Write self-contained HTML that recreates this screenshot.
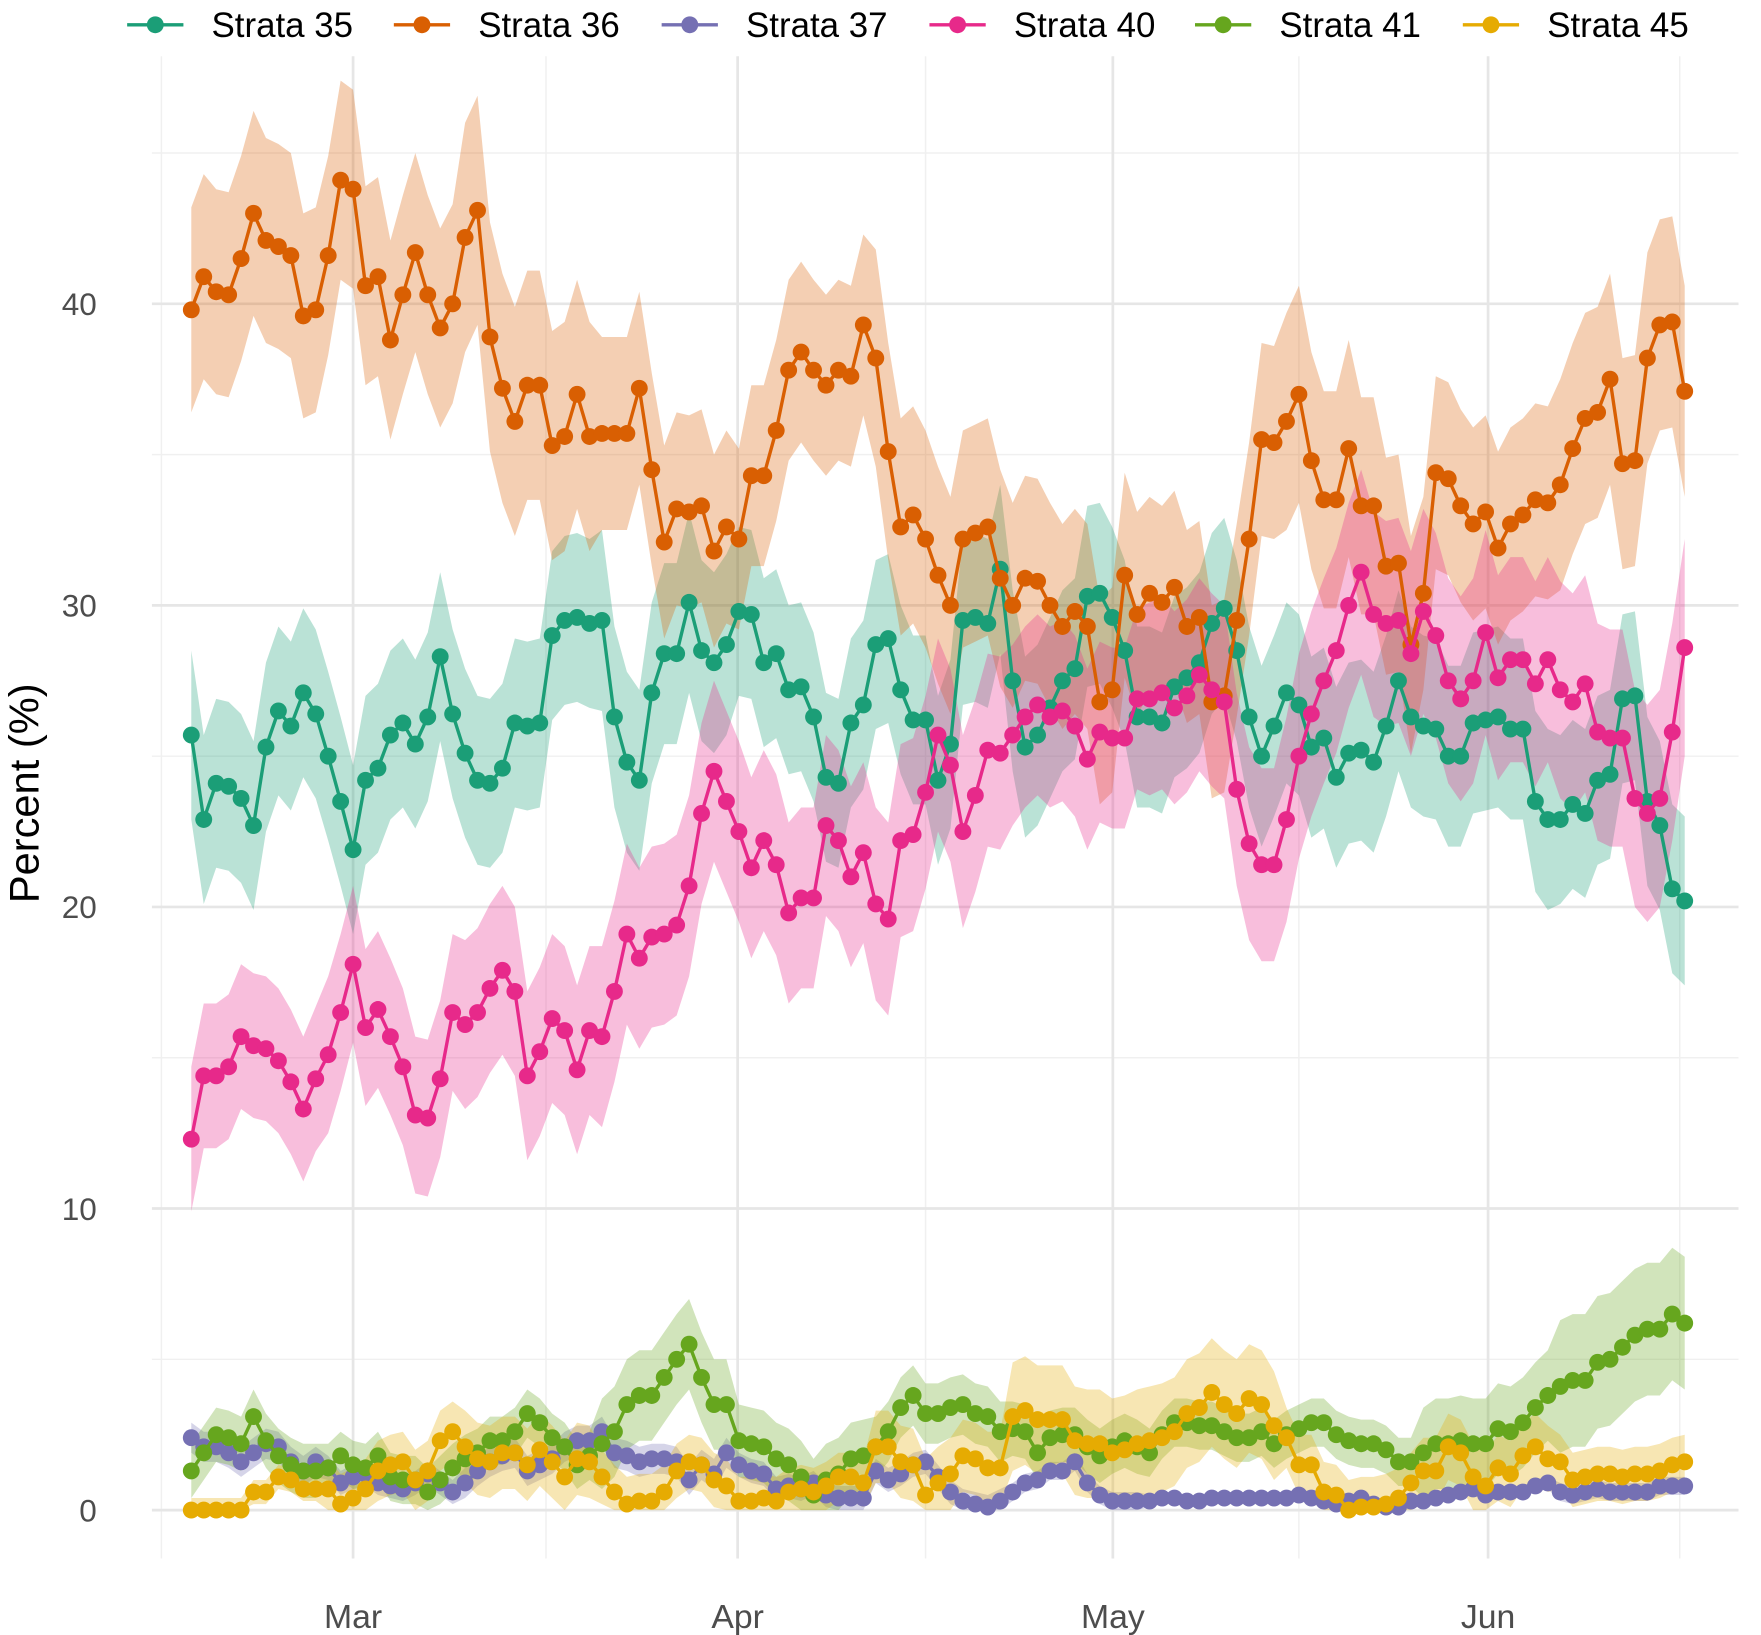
<!DOCTYPE html>
<html><head><meta charset="utf-8">
<style>
html,body{margin:0;padding:0;background:#fff;}
svg{display:block;font-family:"Liberation Sans",Arial,sans-serif;}
</style></head>
<body>
<svg id="chart" width="1761" height="1635" viewBox="0 0 1565 1453" preserveAspectRatio="none" xmlns="http://www.w3.org/2000/svg">
<g id="grid"></g>
<g id="bands"></g>
<g id="series"></g>
<g id="axes"></g>
<text transform="translate(34,705) rotate(-90)" text-anchor="middle" font-size="37" fill="#000">Percent (%)</text>
<g id="legend"></g>
</svg>
<script>
const seriesNames = ["Strata 35","Strata 36","Strata 37","Strata 40","Strata 41","Strata 45"];
const seriesColors = ["#1B9E77","#D95F02","#7570B3","#E7298A","#66A61E","#E6AB02"];
const yTicks = [0,10,20,30,40];
const yMinor = [5,15,25,35,45];
const xTickPos = [13,43.9,74.05,104.2];
const xTickLabels = ["Mar","Apr","May","Jun"];
const xMinor = [-2.4,28.5,59,89,119.6];

const s35 = [25.7,22.9,24.1,24.0,23.6,22.7,25.3,26.5,26.0,27.1,26.4,25.0,23.5,21.9,24.2,24.6,25.7,26.1,25.4,26.3,28.3,26.4,25.1,24.2,24.1,24.6,26.1,26.0,26.1,29.0,29.5,29.6,29.4,29.5,26.3,24.8,24.2,27.1,28.4,28.4,30.1,28.5,28.1,28.7,29.8,29.7,28.1,28.4,27.2,27.3,26.3,24.3,24.1,26.1,26.7,28.7,28.9,27.2,26.2,26.2,24.2,25.4,29.5,29.6,29.4,31.2,27.5,25.3,25.7,26.6,27.5,27.9,30.3,30.4,29.6,28.5,26.3,26.3,26.1,27.3,27.6,28.1,29.4,29.9,28.5,26.3,25.0,26.0,27.1,26.7,25.3,25.6,24.3,25.1,25.2,24.8,26.0,27.5,26.3,26.0,25.9,25.0,25.0,26.1,26.2,26.3,25.9,25.9,23.5,22.9,22.9,23.4,23.1,24.2,24.4,26.9,27.0,23.5,22.7,20.6,20.2];
const s36 = [39.8,40.9,40.4,40.3,41.5,43.0,42.1,41.9,41.6,39.6,39.8,41.6,44.1,43.8,40.6,40.9,38.8,40.3,41.7,40.3,39.2,40.0,42.2,43.1,38.9,37.2,36.1,37.3,37.3,35.3,35.6,37.0,35.6,35.7,35.7,35.7,37.2,34.5,32.1,33.2,33.1,33.3,31.8,32.6,32.2,34.3,34.3,35.8,37.8,38.4,37.8,37.3,37.8,37.6,39.3,38.2,35.1,32.6,33.0,32.2,31.0,30.0,32.2,32.4,32.6,30.9,30.0,30.9,30.8,30.0,29.3,29.8,29.3,26.8,27.2,31.0,29.7,30.4,30.1,30.6,29.3,29.6,26.8,27.0,29.5,32.2,35.5,35.4,36.1,37.0,34.8,33.5,33.5,35.2,33.3,33.3,31.3,31.4,28.7,30.4,34.4,34.2,33.3,32.7,33.1,31.9,32.7,33.0,33.5,33.4,34.0,35.2,36.2,36.4,37.5,34.7,34.8,38.2,39.3,39.4,37.1];
const s37 = [2.4,2.1,2.1,1.9,1.6,1.9,2.2,2.1,1.6,1.3,1.6,1.4,0.9,1.1,1.2,0.9,0.8,0.7,0.9,1.2,0.9,0.6,0.9,1.3,1.6,1.8,1.9,1.3,1.5,1.7,2.1,2.3,2.3,2.6,1.9,1.8,1.6,1.7,1.7,1.6,1.0,1.5,1.2,1.9,1.5,1.3,1.2,0.7,0.8,0.7,0.9,0.5,0.4,0.4,0.4,1.3,1.0,1.2,1.5,1.6,1.1,0.6,0.3,0.2,0.1,0.3,0.6,0.9,1.0,1.3,1.3,1.6,0.9,0.5,0.3,0.3,0.3,0.3,0.4,0.4,0.3,0.3,0.4,0.4,0.4,0.4,0.4,0.4,0.4,0.5,0.4,0.3,0.2,0.3,0.4,0.2,0.1,0.1,0.3,0.3,0.4,0.5,0.6,0.7,0.5,0.6,0.6,0.6,0.8,0.9,0.6,0.5,0.6,0.7,0.6,0.6,0.6,0.6,0.8,0.8,0.8];
const s40 = [12.3,14.4,14.4,14.7,15.7,15.4,15.3,14.9,14.2,13.3,14.3,15.1,16.5,18.1,16.0,16.6,15.7,14.7,13.1,13.0,14.3,16.5,16.1,16.5,17.3,17.9,17.2,14.4,15.2,16.3,15.9,14.6,15.9,15.7,17.2,19.1,18.3,19.0,19.1,19.4,20.7,23.1,24.5,23.5,22.5,21.3,22.2,21.4,19.8,20.3,20.3,22.7,22.2,21.0,21.8,20.1,19.6,22.2,22.4,23.8,25.7,24.7,22.5,23.7,25.2,25.1,25.7,26.3,26.7,26.3,26.5,26.0,24.9,25.8,25.6,25.6,26.9,26.9,27.1,26.6,27.0,27.7,27.2,26.8,23.9,22.1,21.4,21.4,22.9,25.0,26.4,27.5,28.5,30.0,31.1,29.7,29.4,29.5,28.4,29.8,29.0,27.5,26.9,27.5,29.1,27.6,28.2,28.2,27.4,28.2,27.2,26.8,27.4,25.8,25.6,25.6,23.6,23.1,23.6,25.8,28.6];
const s41 = [1.3,1.9,2.5,2.4,2.2,3.1,2.3,1.8,1.5,1.3,1.3,1.4,1.8,1.5,1.4,1.8,1.1,1.0,1.0,0.6,1.0,1.4,1.7,1.9,2.3,2.3,2.6,3.2,2.9,2.4,2.1,1.5,1.8,2.2,2.6,3.5,3.8,3.8,4.4,5.0,5.5,4.4,3.5,3.5,2.3,2.2,2.1,1.7,1.5,1.1,0.5,1.0,1.2,1.7,1.8,2.1,2.6,3.4,3.8,3.2,3.2,3.4,3.5,3.2,3.1,2.6,2.7,2.6,1.9,2.4,2.5,2.5,2.1,1.8,2.1,2.3,2.1,1.9,2.5,2.9,2.9,2.8,2.8,2.6,2.4,2.4,2.6,2.2,2.5,2.7,2.9,2.9,2.5,2.3,2.2,2.2,2.0,1.6,1.6,1.9,2.2,2.2,2.3,2.2,2.2,2.7,2.6,2.9,3.4,3.8,4.1,4.3,4.3,4.9,5.0,5.4,5.8,6.0,6.0,6.5,6.2];
const s45 = [0.0,0.0,0.0,0.0,0.0,0.6,0.6,1.1,1.0,0.7,0.7,0.7,0.2,0.4,0.7,1.3,1.5,1.6,1.0,1.3,2.3,2.6,2.1,1.7,1.6,1.9,1.9,1.5,2.0,1.6,1.1,1.7,1.6,1.1,0.6,0.2,0.3,0.3,0.6,1.3,1.6,1.5,1.0,0.8,0.3,0.3,0.4,0.3,0.6,0.7,0.6,0.8,1.1,1.1,0.9,2.1,2.1,1.6,1.5,0.5,0.9,1.2,1.8,1.7,1.4,1.4,3.1,3.3,3.0,3.0,3.0,2.3,2.2,2.2,1.9,2.0,2.2,2.3,2.4,2.6,3.2,3.4,3.9,3.5,3.2,3.7,3.5,2.8,2.4,1.5,1.5,0.6,0.5,0.0,0.1,0.1,0.2,0.4,0.9,1.3,1.3,2.1,1.9,1.1,0.8,1.4,1.2,1.8,2.1,1.7,1.6,1.0,1.1,1.2,1.2,1.1,1.2,1.2,1.3,1.5,1.6];
const se35 = [2.8,2.8,2.8,3.0,2.8,2.8,3.0,3.0,3.0,3.0,2.8];
const se36 = [3.4,3.3,3.8,3.2,3.0,3.6,3.4,3.2,3.6,3.2,3.5];
const se37 = [0.5,0.4,0.5,0.5,0.4,0.4,0.3,0.2,0.2,0.2,0.3];
const se40 = [2.4,2.6,2.8,3.0,3.0,3.2,3.0,3.2,3.4,3.4,3.6];
const se41 = [0.9,0.8,0.8,1.5,1.2,1.0,0.9,0.8,0.8,1.5,2.2];
const se45 = [0.4,1.0,1.2,0.9,0.8,1.2,1.8,1.8,1.0,1.1,0.9];
const allSeries = [s35,s36,s37,s40,s41,s45];
const allSe = [se35,se36,se37,se40,se41,se45];

const NS = "http://www.w3.org/2000/svg";
const X0 = 170, DX = 11.06;
const Y0 = 1342, DY = 26.8;
const xs = i => X0 + i*DX;
const ys = v => Y0 - v*DY;
const PL = 135, PR = 1545, PT = 50, PB = 1385;
function mk(tag, attrs, parent){ const e=document.createElementNS(NS,tag); for(const k in attrs) e.setAttribute(k,attrs[k]); parent.appendChild(e); return e; }

const grid = document.getElementById('grid');
yMinor.forEach(v=>{ const l=mk('line',{x1:PL,x2:PR,y1:ys(v),y2:ys(v),stroke:'#f0f0f0','stroke-width':1.3},grid);

 });
xMinor.forEach(d=>{ const l=mk('line',{x1:xs(d),x2:xs(d),y1:PT,y2:PB,stroke:'#f0f0f0','stroke-width':1.3},grid);

 });
yTicks.forEach(v=>{ const l=mk('line',{x1:PL,x2:PR,y1:ys(v),y2:ys(v),stroke:'#e6e6e6','stroke-width':2.4},grid);

 });
xTickPos.forEach(d=>{ const l=mk('line',{x1:xs(d),x2:xs(d),y1:PT,y2:PB,stroke:'#e6e6e6','stroke-width':2.4},grid);

 });

const axes = document.getElementById('axes');
yTicks.forEach(v=>{ const t=mk('text',{x:86,y:ys(v)+10,'text-anchor':'end','font-size':28,fill:'#4d4d4d'},axes); t.textContent=v;

 });
xTickPos.forEach((d,i)=>{ const t=mk('text',{x:xs(d),y:1447,'text-anchor':'middle','font-size':30,fill:'#4d4d4d'},axes); t.textContent=xTickLabels[i];

 });

const bands = document.getElementById('bands');
const seriesG = document.getElementById('series');
allSeries.forEach((s,k)=>{
  const se = allSe[k];
  let up=[], lo=[];
  s.forEach((v,i)=>{ const w=se[Math.min(se.length-1,Math.floor(i/11))]; up.push(xs(i)+','+ys(v+w)); lo.unshift(xs(i)+','+ys(Math.max(0,v-w))); });
  const p = mk('polygon',{points:up.concat(lo).join(' '),fill:seriesColors[k],'fill-opacity':0.3},bands);
  
  
});
allSeries.forEach((s,k)=>{
  const g = mk('g',{},seriesG);
  
  
  const pl = mk('polyline',{points:s.map((v,i)=>xs(i)+','+ys(v)).join(' '),fill:'none',stroke:seriesColors[k],'stroke-width':3},g);
  
  
  s.forEach((v,i)=>{ const c=mk('circle',{cx:xs(i),cy:ys(v),r:7.5,fill:seriesColors[k]},g);
    
     });
});

const legend = document.getElementById('legend');
const legX = [113,350,588,826,1062,1300];
seriesNames.forEach((n,k)=>{
  const g = mk('g',{},legend);
  
  
  mk('line',{x1:legX[k],x2:legX[k]+50,y1:22,y2:22,stroke:seriesColors[k],'stroke-width':3},g);
  mk('circle',{cx:legX[k]+25,cy:22,r:7.5,fill:seriesColors[k]},g);
  const t = mk('text',{x:legX[k]+75,y:33,'font-size':31,fill:'#000'},g); t.textContent=n;
});
</script>
</body></html>
